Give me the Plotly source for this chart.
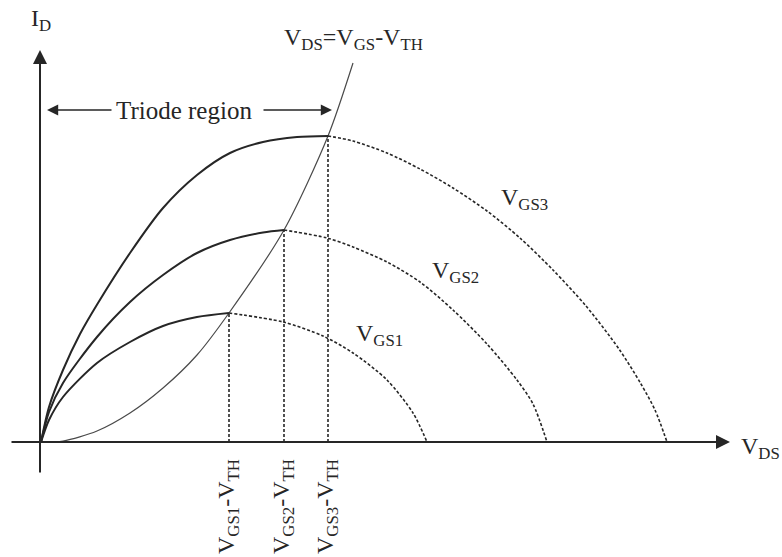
import plotly.graph_objects as go

# ---- data (schematic units; origin at the axes crossing) ----
vgs1_solid_vds = [0, 8, 22, 56, 89, 122, 156, 188]
vgs1_solid_id = [0, 22, 45, 79, 100, 116, 125, 129]
vgs1_sat_vds = [188, 242, 282, 312, 346, 372, 386]
vgs1_sat_id = [129, 120, 106, 89, 62, 29, 0]

vgs2_solid_vds = [0, 8, 22, 56, 89, 122, 156, 189, 222, 243]
vgs2_solid_id = [0, 30, 59, 105, 140, 167, 189, 202, 209.5, 212]
vgs2_sat_vds = [243, 286, 312, 346, 379, 412, 446, 476, 492, 506]
vgs2_sat_id = [212, 204, 195, 180, 160, 132, 98, 62, 38, 0]

vgs3_solid_vds = [0, 8, 22, 39, 57, 89, 122, 156, 189, 222, 256, 287]
vgs3_solid_id = [0, 35, 72, 108, 139, 189, 234, 267, 289, 300, 305, 306]
vgs3_sat_vds = [287, 312, 346, 379, 412, 446, 479, 512, 545, 578, 600, 614, 626]
vgs3_sat_id = [306, 301, 289, 273, 254, 231, 204, 172, 136, 93, 58, 32, 0]

boundary_vds = [0, 22, 56, 89, 122, 156, 188, 243, 287, 312]
boundary_id = [0, 1, 11, 29, 54, 87, 129, 212, 306, 379]

vov_vds = [188, 243, 287]
vov_id = [129, 212, 306]
vov_labels = ["V<sub>GS1</sub>-V<sub>TH</sub>",
              "V<sub>GS2</sub>-V<sub>TH</sub>",
              "V<sub>GS3</sub>-V<sub>TH</sub>"]
curve_labels = ["V<sub>GS1</sub>", "V<sub>GS2</sub>", "V<sub>GS3</sub>"]
curve_label_pos = [(338, 104), (414, 167), (483, 240)]

INK = "#262626"
FONT = "Liberation Serif"

fig = go.Figure()

# triode-region boundary (thin)
fig.add_trace(go.Scatter(x=boundary_vds, y=boundary_id, mode="lines",
                         line=dict(color="#4a4a4a", width=1.2, shape="spline", smoothing=0.8),
                         hoverinfo="skip"))

for xs, ys in [(vgs1_solid_vds, vgs1_solid_id), (vgs2_solid_vds, vgs2_solid_id),
               (vgs3_solid_vds, vgs3_solid_id)]:
    fig.add_trace(go.Scatter(x=xs, y=ys, mode="lines",
                             line=dict(color=INK, width=2, shape="spline", smoothing=0.8),
                             hoverinfo="skip"))

for xs, ys in [(vgs1_sat_vds, vgs1_sat_id), (vgs2_sat_vds, vgs2_sat_id),
               (vgs3_sat_vds, vgs3_sat_id)]:
    fig.add_trace(go.Scatter(x=xs, y=ys, mode="lines",
                             line=dict(color=INK, width=1.6, shape="spline", smoothing=0.8,
                                       dash="3px,2px"),
                             hoverinfo="skip"))

# vertical dashed drop lines
for vx, vy in zip(vov_vds, vov_id):
    fig.add_trace(go.Scatter(x=[vx, vx], y=[0, vy], mode="lines",
                             line=dict(color=INK, width=1.6, dash="3px,2px"),
                             hoverinfo="skip"))

annotations = []
# axes with arrow heads
annotations.append(dict(x=689, y=0, ax=-31, ay=0, xref="x", yref="y", axref="x", ayref="y",
                        text="", showarrow=True, arrowhead=2, arrowsize=1.4, arrowwidth=2,
                        arrowcolor=INK))
annotations.append(dict(x=-1, y=392, ax=-1, ay=-32, xref="x", yref="y", axref="x", ayref="y",
                        text="", showarrow=True, arrowhead=2, arrowsize=1.4, arrowwidth=2,
                        arrowcolor=INK))
# triode region arrows
annotations.append(dict(x=6, y=332, ax=72, ay=332, xref="x", yref="y", axref="x", ayref="y",
                        text="", showarrow=True, arrowhead=2, arrowsize=1.4, arrowwidth=1.6,
                        arrowcolor=INK))
annotations.append(dict(x=291, y=332, ax=221, ay=332, xref="x", yref="y", axref="x", ayref="y",
                        text="", showarrow=True, arrowhead=2, arrowsize=1.4, arrowwidth=1.6,
                        arrowcolor=INK))

def label(x, y, text, size=24, angle=0, xanchor="center"):
    return dict(x=x, y=y, xref="x", yref="y", text=text, showarrow=False,
                font=dict(family=FONT, size=size, color=INK), textangle=angle,
                xanchor=xanchor, yanchor="middle")

annotations.append(label(143, 332, "Triode region", size=25))
annotations.append(label(0, 422, "I<sub>D</sub>"))
annotations.append(label(312, 403, "V<sub>DS</sub>=V<sub>GS</sub>-V<sub>TH</sub>"))
annotations.append(label(719, -6, "V<sub>DS</sub>"))
for (lx, ly), t in zip(curve_label_pos, curve_labels):
    annotations.append(label(lx, ly + 3, t))
for vx, t in zip(vov_vds, vov_labels):
    annotations.append(label(vx - 1, -65, t, angle=-90))

fig.update_layout(
    width=782, height=557,
    margin=dict(l=0, r=0, t=0, b=0),
    paper_bgcolor="white", plot_bgcolor="white",
    showlegend=False,
    xaxis=dict(range=[-41, 741], visible=False, fixedrange=True),
    yaxis=dict(range=[-115, 442], visible=False, fixedrange=True),
    annotations=annotations,
)

fig.write_html("out.html", config={"displayModeBar": False},
               post_script="document.body.style.margin='0';document.body.style.overflow='hidden';")
